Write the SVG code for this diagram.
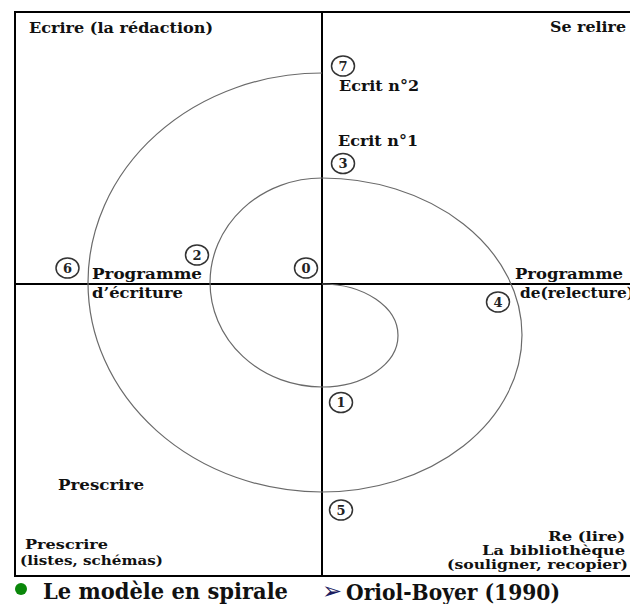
<svg xmlns="http://www.w3.org/2000/svg" width="630" height="604" viewBox="0 0 630 604">
<style>
.t{font-family:"DejaVu Serif","Liberation Serif",serif;font-weight:bold;font-size:15px;fill:#111}
.s{font-size:13px}
.big{font-size:22px}
.num{font-family:"DejaVu Serif","Liberation Serif",serif;font-weight:bold;font-size:13px;fill:#222;text-anchor:middle}
.mk{fill:none;stroke:#333;stroke-width:1.5}
.ax{stroke:#000;stroke-width:2;fill:none}
.sp{stroke:#6a6a6a;stroke-width:1.2;fill:none}
</style>
<rect x="0" y="0" width="630" height="604" fill="#fff"/>
<g id="connectors">
<rect class="ax" x="15" y="12" width="640" height="564"/>
<line class="ax" x1="322" y1="12" x2="322" y2="576"/>
<line class="ax" x1="15" y1="284" x2="630" y2="284"/>
<path class="sp" d="M322,284 A76,51.5 0 0 1 322,387 A112,104.5 0 0 1 322,178 A200,157 0 0 1 322,492 A234,209.5 0 0 1 322,73"/>
</g>
<g id="n0"><ellipse class="mk" cx="306" cy="268" rx="11.5" ry="10"/><text class="num" x="306" y="272.5">0</text></g>
<g id="n1"><ellipse class="mk" cx="341" cy="402.5" rx="11.5" ry="10"/><text class="num" x="341" y="407">1</text></g>
<g id="n2"><ellipse class="mk" cx="197" cy="255" rx="11.5" ry="10"/><text class="num" x="197" y="259.5">2</text></g>
<g id="n3"><ellipse class="mk" cx="343" cy="163.5" rx="11.5" ry="10"/><text class="num" x="343" y="168">3</text></g>
<g id="n4"><ellipse class="mk" cx="498" cy="302" rx="11.5" ry="10"/><text class="num" x="498" y="306.5">4</text></g>
<g id="n5"><ellipse class="mk" cx="341" cy="510" rx="11.5" ry="10"/><text class="num" x="341" y="514.5">5</text></g>
<g id="n6"><ellipse class="mk" cx="67.5" cy="268" rx="11.5" ry="10"/><text class="num" x="67.5" y="272.5">6</text></g>
<g id="n7"><ellipse class="mk" cx="343" cy="66" rx="11.5" ry="10"/><text class="num" x="343" y="70.5">7</text></g>
<g id="ecrire"><text class="t" x="29" y="33" textLength="184" lengthAdjust="spacingAndGlyphs">Ecrire (la rédaction)</text></g>
<g id="serelire"><text class="t" x="550" y="32" textLength="76" lengthAdjust="spacingAndGlyphs">Se relire</text></g>
<g id="ecrit2"><text class="t" x="339" y="91" textLength="80" lengthAdjust="spacingAndGlyphs">Ecrit n°2</text></g>
<g id="ecrit1"><text class="t" x="338" y="146" textLength="80" lengthAdjust="spacingAndGlyphs">Ecrit n°1</text></g>
<g id="progecr"><text class="t" x="92" y="279" textLength="110" lengthAdjust="spacingAndGlyphs">Programme</text><text class="t" x="92" y="298" textLength="91" lengthAdjust="spacingAndGlyphs">d’écriture</text></g>
<g id="progrel"><text class="t" x="515" y="279" textLength="108" lengthAdjust="spacingAndGlyphs">Programme</text><text class="t" x="520" y="298" textLength="114" lengthAdjust="spacingAndGlyphs">de(relecture)</text></g>
<g id="prescrire1"><text class="t" x="58" y="490" textLength="86" lengthAdjust="spacingAndGlyphs">Prescrire</text></g>
<g id="prescrire2"><text class="t s" x="25" y="549" textLength="83" lengthAdjust="spacingAndGlyphs">Prescrire</text><text class="t s" x="20" y="565" textLength="143" lengthAdjust="spacingAndGlyphs">(listes, schémas)</text></g>
<g id="relire"><text class="t s" x="548" y="541" textLength="77" lengthAdjust="spacingAndGlyphs">Re (lire)</text><text class="t s" x="482" y="555" textLength="143" lengthAdjust="spacingAndGlyphs">La bibliothèque</text><text class="t s" x="447" y="569" textLength="181" lengthAdjust="spacingAndGlyphs">(souligner, recopier)</text></g>
<g id="footer">
<circle cx="21" cy="589" r="6" fill="#0a870a"/>
<text class="t big" x="43" y="599" textLength="245" lengthAdjust="spacingAndGlyphs">Le modèle en spirale</text>
<text x="322" y="599" font-family="DejaVu Sans,sans-serif" font-size="24" fill="#1c1c5e">➢</text>
<text class="t big" x="346" y="600" textLength="214" lengthAdjust="spacingAndGlyphs">Oriol-Boyer (1990)</text>
</g>
</svg>
